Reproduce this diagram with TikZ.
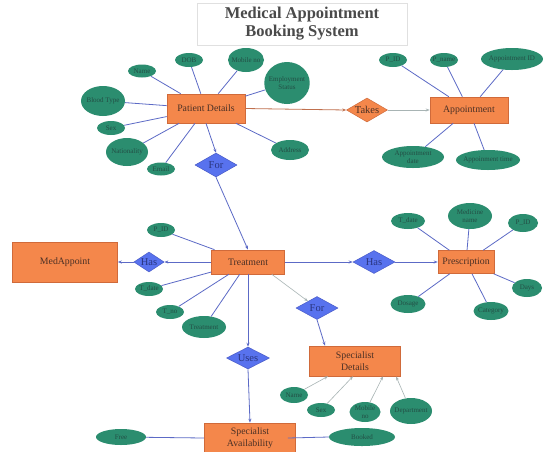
\documentclass[tikz,border=0pt]{standalone}
\usepackage{fontspec}
\setmainfont{Liberation Serif}
\usetikzlibrary{shapes.geometric,arrows.meta}
\definecolor{entF}{HTML}{F4874B}
\definecolor{entB}{HTML}{D06A3A}
\definecolor{entT}{HTML}{4A3025}
\definecolor{attF}{HTML}{2B8D6F}
\definecolor{attT}{HTML}{234E45}
\definecolor{relF}{HTML}{5872EE}
\definecolor{relB}{HTML}{4A5CC8}
\definecolor{relT}{HTML}{2A3580}
\definecolor{lnB}{HTML}{5C6AC6}
\definecolor{lnG}{HTML}{A8B4B4}
\definecolor{lnO}{HTML}{C0704E}
\definecolor{titT}{HTML}{4A4A4A}
\tikzset{
  ent/.style={rectangle, fill=entF, draw=entB, line width=0.6pt, text=entT, font=\fontsize{9.8}{11.5}\selectfont, align=center, inner sep=1pt},
  attr/.style={ellipse, fill=attF, draw=none, text=attT, font=\fontsize{7}{7.5}\selectfont, align=center, inner sep=-2pt},
  rel/.style={diamond, fill=relF, draw=relB, line width=0.5pt, text=relT, font=\fontsize{10.5}{11}\selectfont, inner sep=0pt, aspect=2},
  relo/.style={rel, fill=entF, draw=entB, text=entT},
  ln/.style={draw=lnB, line width=0.8pt},
  lg/.style={draw=lnG, line width=0.6pt},
  arr/.style={-{Stealth[length=4pt,width=3pt]}},
}
\begin{document}
\begin{tikzpicture}[x=1pt,y=-1pt]
\useasboundingbox[fill=white] (0,0) rectangle (543,451);
% title
\node[draw=black!12, line width=0.6pt, minimum width=210, minimum height=42, text=titT, font=\fontsize{16.5}{18}\selectfont\bfseries, align=center] (title) at (302,24) {Medical Appointment\\Booking System};
% entities
\node[ent, minimum width=78, minimum height=29] (pd) at (206,108.5) {Patient Details};
\node[ent, minimum width=78, minimum height=26] (app) at (469,110) {Appointment};
\node[ent, minimum width=73, minimum height=24] (tr) at (248,262) {Treatment};
\node[ent, minimum width=105, minimum height=40] (med) at (65,262) {MedAppoint};
\node[ent, minimum width=56, minimum height=23] (pre) at (466,262) {Prescription};
\node[ent, minimum width=91, minimum height=30] (sd) at (355,361) {Specialist\\Details};
\node[ent, minimum width=91, minimum height=30] (sa) at (250,438) {Specialist\\Availability};
% relationships
\node[relo, minimum width=41, minimum height=24] (takes) at (367,110) {Takes};
\node[rel, minimum width=42, minimum height=24] (for1) at (216,165) {For};
\node[rel, minimum width=27, minimum height=20] (has1) at (149,262) {Has};
\node[rel, minimum width=42, minimum height=23] (has2) at (374,262) {Has};
\node[rel, minimum width=42, minimum height=23] (for2) at (317,308) {For};
\node[rel, minimum width=43, minimum height=22] (uses) at (248,358) {Uses};
% patient attributes
\node[attr, minimum width=28, minimum height=13] (pname) at (142,71) {Name};
\node[attr, minimum width=28, minimum height=14] (dob) at (189,60) {DOB};
\node[attr, minimum width=36, minimum height=24] (mob) at (246,60) {Mobile no};
\node[attr, minimum width=42, minimum height=42] (emp) at (287,83) {Employment\\Status};
\node[attr, minimum width=44, minimum height=30] (blood) at (103,101) {Blood Type};
\node[attr, minimum width=28, minimum height=14] (psex) at (111,128) {Sex};
\node[attr, minimum width=42, minimum height=28] (nat) at (127,152) {Nationality};
\node[attr, minimum width=28, minimum height=13] (email) at (161,169) {Email};
\node[attr, minimum width=38, minimum height=20] (addr) at (290,150) {Address};
% appointment attributes
\node[attr, minimum width=28, minimum height=14] (apid) at (393,60) {P\_ID};
\node[attr, minimum width=28, minimum height=14] (apname) at (444,60) {P\_name};
\node[attr, minimum width=62, minimum height=22] (appid) at (512,59) {Appointment ID};
\node[attr, minimum width=62, minimum height=22] (adate) at (413,157) {Appointment\\date};
\node[attr, minimum width=64, minimum height=20] (atime) at (488,160) {Appoinment time};
% treatment attributes
\node[attr, minimum width=28, minimum height=14] (tpid) at (161,230) {P\_ID};
\node[attr, minimum width=28, minimum height=14] (tdate) at (149,289) {T\_date};
\node[attr, minimum width=28, minimum height=14] (tno) at (170,312) {T\_no};
\node[attr, minimum width=44, minimum height=22] (ttr) at (204,327) {Treatment};
% prescription attributes
\node[attr, minimum width=34, minimum height=16] (pdate) at (408,221) {T\_date};
\node[attr, minimum width=44, minimum height=26] (medn) at (470,216) {Medicine\\name};
\node[attr, minimum width=30, minimum height=18] (ppid) at (523,223) {P\_ID};
\node[attr, minimum width=30, minimum height=18] (days) at (527,288) {Days};
\node[attr, minimum width=35, minimum height=18] (cat) at (491,311) {Category};
\node[attr, minimum width=35, minimum height=18] (dos) at (408,304) {Dosage};
% specialist attributes
\node[attr, minimum width=28, minimum height=16] (sname) at (294,395) {Name};
\node[attr, minimum width=28, minimum height=14] (ssex) at (321,410) {Sex};
\node[attr, minimum width=31, minimum height=20] (smob) at (365,412) {Mobile\\no};
\node[attr, minimum width=42, minimum height=26] (sdep) at (411,411) {Department};
% availability attributes
\node[attr, minimum width=50, minimum height=16] (free) at (121,437) {Free};
\node[attr, minimum width=66, minimum height=18] (booked) at (362,437) {Booked};
% attribute lines
\foreach \a in {pname,dob,mob,emp,blood,psex,nat,email,addr} \draw[ln] (\a) -- (pd);
\foreach \a in {apid,apname,appid,adate,atime} \draw[ln] (\a) -- (app);
\foreach \a in {tpid,tdate,tno,ttr} \draw[ln] (\a) -- (tr);
\foreach \a in {pdate,medn,ppid,days,cat,dos} \draw[ln] (\a) -- (pre);
% relationship connectors
\draw[draw=lnO, line width=0.8pt, arr] (pd.east) -- (takes.west);
\draw[lg, arr] (takes.east) -- (app.west);
\draw[ln, arr] (pd.south) -- (for1.north);
\draw[ln, arr] (for1.south) -- (tr.north);
\draw[ln, arr] (tr.west) -- (has1.east);
\draw[ln, arr] (has1.west) -- (med.east);
\draw[ln, arr] (tr.east) -- (has2.west);
\draw[ln, arr] (has2.east) -- (pre.west);
\draw[lg, arr] ([xshift=-13pt]tr.south east) -- (for2);
\draw[ln, arr] (for2.south) -- ([xshift=-30pt]sd.north);
\draw[ln, arr] (tr.south) -- (uses.north);
\draw[ln, arr] (uses.south) -- (sa.north);
\draw[lg, arr] (sname) -- ([xshift=-27pt]sd.south);
\draw[lg, arr] (ssex) -- ([xshift=-2pt]sd.south);
\draw[lg, arr] (smob) -- ([xshift=28pt]sd.south);
\draw[lg, arr] (sdep) -- ([xshift=41pt]sd.south);
\draw[ln] (free) -- (sa.west);
\draw[ln] (booked.west) -- ([xshift=-8pt]sa.east);
\end{tikzpicture}
\end{document}
